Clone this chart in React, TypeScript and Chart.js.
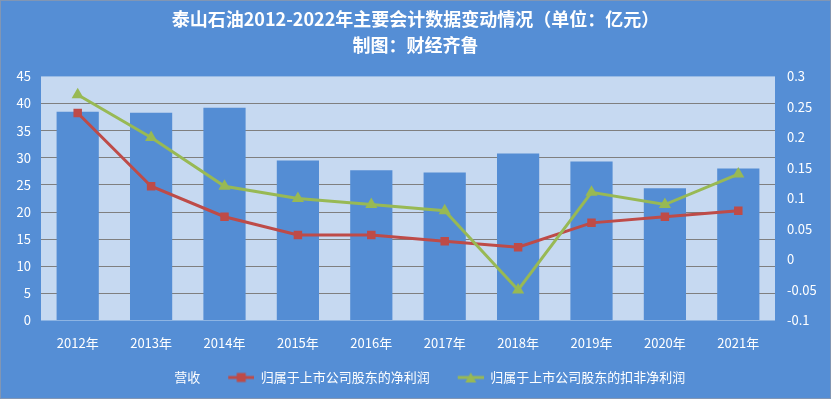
import React, { useEffect, useRef } from "react";
import { Chart, registerables } from "chart.js";

Chart.register(...registerables);

const categories = ["2012年", "2013年", "2014年", "2015年", "2016年", "2017年", "2018年", "2019年", "2020年", "2021年"];
const revenue = [38.5, 38.3, 39.2, 29.5, 27.7, 27.3, 30.8, 29.3, 24.4, 28.0];
const netProfit = [0.24, 0.12, 0.07, 0.04, 0.04, 0.03, 0.02, 0.06, 0.07, 0.08];
const deductedProfit = [0.27, 0.2, 0.12, 0.1, 0.09, 0.08, -0.05, 0.11, 0.09, 0.14];
const titleLines = ["泰山石油2012-2022年主要会计数据变动情况（单位：亿元）", "制图：财经齐鲁"];
const seriesNames = ["营收", "归属于上市公司股东的净利润", "归属于上市公司股东的扣非净利润"];

const BG = "#558ed5";
const PLOT_BG = "#c6d9f1";
const BAR = "#548dd4";
const RED = "#be4b48";
const GREEN = "#98b954";
const FONT = "'Noto Sans CJK SC', 'Noto Sans', sans-serif";

function makeMarker(color: string, kind: "square" | "triangle" | "none"): HTMLCanvasElement {
  const c = document.createElement("canvas");
  c.width = 36;
  c.height = 12;
  const ctx = c.getContext("2d")!;
  if (kind === "none") return c;
  const x0 = 10;
  ctx.strokeStyle = color;
  ctx.lineWidth = 3;
  ctx.beginPath();
  ctx.moveTo(x0, 6);
  ctx.lineTo(x0 + 26, 6);
  ctx.stroke();
  ctx.fillStyle = color;
  if (kind === "square") {
    ctx.fillRect(x0 + 8.5, 1.5, 9, 9);
  } else {
    ctx.beginPath();
    ctx.moveTo(x0 + 13, 1);
    ctx.lineTo(x0 + 18.5, 11);
    ctx.lineTo(x0 + 7.5, 11);
    ctx.closePath();
    ctx.fill();
  }
  return c;
}

const bgPlugin = {
  id: "bgPlugin",
  afterLayout(chart: any) {
    const lg = chart.legend;
    if (lg) {
      lg.left -= 7;
      lg.right -= 7;
    }
  },
  beforeDraw(chart: any) {
    const { ctx, chartArea, width, height } = chart;
    ctx.save();
    ctx.fillStyle = BG;
    ctx.fillRect(0, 0, width, height);
    ctx.strokeStyle = "#8196b4";
    ctx.lineWidth = 1;
    ctx.strokeRect(0.5, 0.5, width - 1, height - 1);
    ctx.fillStyle = PLOT_BG;
    ctx.fillRect(chartArea.left, chartArea.top, chartArea.right - chartArea.left, chartArea.bottom - chartArea.top);
    ctx.restore();
  },
};

export default function App() {
  const ref = useRef<HTMLCanvasElement | null>(null);
  useEffect(() => {
    document.body.style.margin = "0";
    const markers = [makeMarker(BAR, "none"), makeMarker(RED, "square"), makeMarker(GREEN, "triangle")];
    const chart = new Chart(ref.current!, {
      type: "bar",
      data: {
        labels: categories,
        datasets: [
          {
            type: "line",
            label: seriesNames[1],
            data: netProfit,
            yAxisID: "y1",
            borderColor: RED,
            backgroundColor: RED,
            borderWidth: 3,
            pointStyle: "rect",
            pointRadius: 6,
            pointBorderWidth: 0,
            tension: 0,
            order: 1,
          } as any,
          {
            type: "line",
            label: seriesNames[2],
            data: deductedProfit,
            yAxisID: "y1",
            borderColor: GREEN,
            backgroundColor: GREEN,
            borderWidth: 3,
            pointStyle: "triangle",
            pointRadius: 7,
            pointBorderWidth: 0,
            tension: 0,
            order: 0,
          } as any,
          {
            type: "bar",
            label: seriesNames[0],
            data: revenue,
            yAxisID: "y",
            backgroundColor: BAR,
            categoryPercentage: 1,
            barPercentage: 0.575,
            order: 2,
          } as any,
        ],
      },
      options: {
        animation: false,
        responsive: false,
        layout: { padding: { bottom: 5 } },
        plugins: {
          title: {
            display: true,
            text: titleLines,
            color: "#ffffff",
            font: { family: FONT, size: 18, weight: "bold", lineHeight: 1.4 },
            padding: { top: 7, bottom: 19 },
          },
          legend: {
            position: "bottom",
            labels: {
              color: "#ffffff",
              font: { family: FONT, size: 13 },
              usePointStyle: true,
              pointStyleWidth: 36,
              padding: 18,
              sort: (a: any, b: any) => {
                const ord = (t: string) => seriesNames.indexOf(t);
                return ord(a.text) - ord(b.text);
              },
              generateLabels: (ch: any) =>
                ch.data.datasets.map((ds: any, i: number) => ({
                  text: ds.label,
                  fillStyle: "transparent",
                  strokeStyle: "transparent",
                  fontColor: "#ffffff",
                  lineWidth: 0,
                  pointStyle: markers[seriesNames.indexOf(ds.label)],
                  hidden: false,
                  datasetIndex: i,
                })),
            },
          },
          tooltip: { enabled: false },
        },
        scales: {
          x: {
            offset: true,
            grid: { display: false, drawTicks: false },
            border: { display: false },
            ticks: { color: "#ffffff", font: { family: FONT, size: 13 }, padding: 15, maxRotation: 0 },
            afterFit: (s: any) => {
              s.height = 32.5;
            },
          },
          y: {
            position: "left",
            min: 0,
            max: 45,
            ticks: { stepSize: 5, color: "#ffffff", font: { family: FONT, size: 13 }, padding: 10 },
            grid: {
              drawTicks: false,
              color: (c: any) => (c.tick && (c.tick.value === 0 || c.tick.value === 45) ? "rgba(0,0,0,0)" : "#7f7f7f"),
              lineWidth: 1,
            },
            border: { display: false },
            afterFit: (s: any) => {
              s.width = 41;
            },
          },
          y1: {
            position: "right",
            min: -0.1,
            max: 0.3,
            ticks: { stepSize: 0.05, color: "#ffffff", font: { family: FONT, size: 13 }, padding: 12,
              callback: (v: any) => String(Math.round(Number(v) * 100) / 100) },
            grid: { display: false, drawTicks: false },
            border: { display: false },
            afterFit: (s: any) => {
              s.width = 56;
            },
          },
        },
      },
      plugins: [bgPlugin],
    });
    return () => chart.destroy();
  }, []);
  return (
    <div style={{ position: "absolute", left: 0, top: 0, width: 831, height: 399 }}>
      <canvas ref={ref} width={831} height={399} style={{ display: "block", width: 831, height: 399 }} />
    </div>
  );
}
